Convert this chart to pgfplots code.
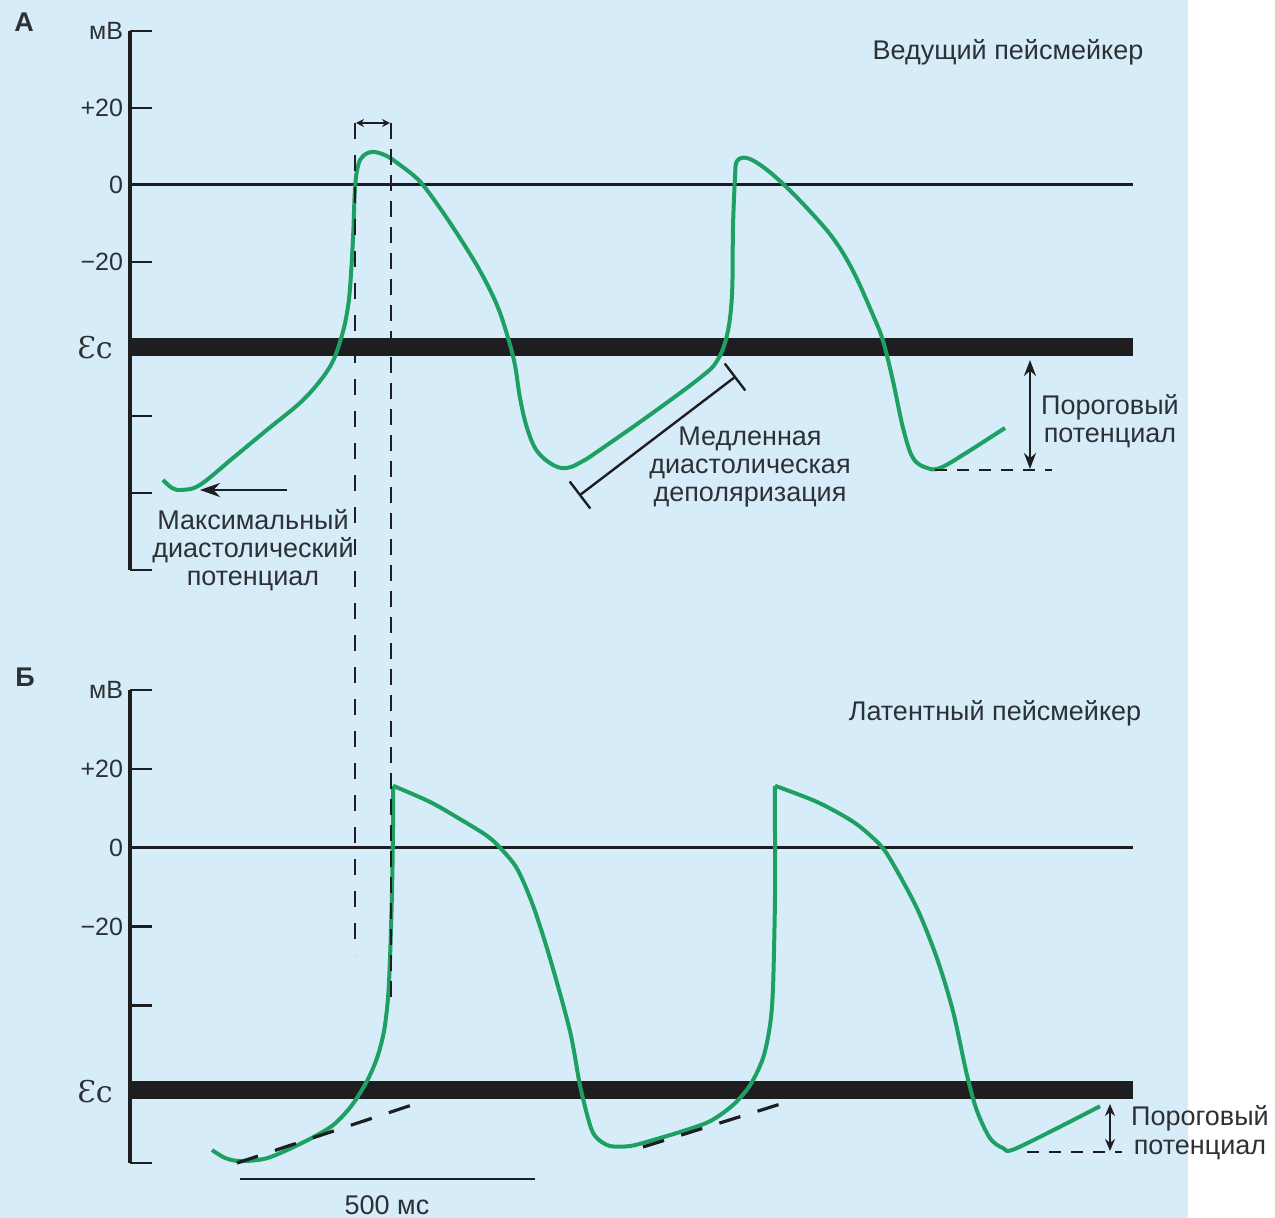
\documentclass[border=0pt]{standalone}
\usepackage{pgfplots}
\pgfplotsset{compat=1.18}
\usepackage{fontspec}
\setmainfont{Liberation Sans}
\newfontfamily\serifec{DejaVu Serif}
\usetikzlibrary{arrows.meta}
\definecolor{bgblue}{RGB}{214,237,249}
\definecolor{apgreen}{RGB}{30,160,98}
\definecolor{ink}{RGB}{30,30,32}
\definecolor{txt}{RGB}{45,48,52}
\pgfplotsset{
  apstyle/.style={
    scale only axis, width=501.5pt, xmin=0, xmax=1700,
    axis x line=none, axis y line=left,
    axis line style={-, line width=1.6pt, draw=ink},
    enlargelimits=false, clip=false,
    tick align=inside, major tick length=11pt,
    major tick style={line width=1.3pt, draw=ink},
    yticklabel style={font=\fontsize{12.5}{13}\selectfont, text=txt},
  },
  ap/.style={apgreen, line width=2pt, smooth, tension=0.6, line join=round},
}
\begin{document}
\begin{tikzpicture}[x=0.5pt,y=-0.5pt]
\useasboundingbox (0,0) rectangle (1275,1218);
\fill[white] (0,0) rectangle (1275,1218);
\fill[bgblue] (0,0) rectangle (1188,1218);

% ---------------- Panel A ----------------
\begin{axis}[apstyle, at={(65pt,-285pt)}, anchor=south west, height=269.5pt,
  ymin=-100, ymax=40,
  ytick={-100,-80,-60,-20,0,20,40}, yticklabels={,,,−20,0,+20,мВ}]
\addplot[ink, line width=9pt] coordinates {(0,-42) (1700,-42)};
\addplot[ink, line width=1.5pt] coordinates {(0,0) (1700,0)};
\addplot[ap] coordinates {
(55.9,-76.6) (71.2,-78.7) (88.1,-79.2) (118.6,-77.9) (174.6,-70.9) (232.2,-63.6)
(288.1,-56.6) (322.0,-50.9) (344.1,-45.7) (359.3,-39.0) (367.8,-33.2) (372.9,-26.8)
(378.0,-13.8) (381.4,-0.8) (386.4,4.9) (394.9,7.5) (411.9,8.6) (435.6,7.5)
(457.6,5.2) (479.7,2.6) (496.6,0) (525.4,-6.0) (559.3,-13.8) (593.2,-22.3)
(622.0,-31.2) (640.7,-39.7) (652.5,-46.8) (661.0,-55.3) (672.9,-63.1) (689.8,-69.1)
(716.9,-72.7) (740.7,-73.5) (767.8,-71.7) (796.6,-68.8) (881.4,-59.7) (966.1,-50.1)
(994.9,-45.7) (1011.9,-39.0) (1020.3,-28.6) (1022.0,-11.2) (1025.4,1.8) (1028.8,6.2)
(1045.8,7.0) (1072.9,4.7) (1106.8,0.3) (1147.5,-6.0) (1191.5,-13.8) (1225.4,-22.3)
(1259.3,-33.8) (1276.3,-40.5) (1293.2,-50.9) (1310.2,-63.1) (1327.1,-70.9) (1350.8,-73.5)
(1372.9,-73.5) (1411.9,-70.1) (1483.1,-63.1)
};
\end{axis}

% ---------------- Panel B ----------------
\begin{axis}[apstyle, at={(65pt,-581.5pt)}, anchor=south west, height=236.5pt,
  ymin=-80, ymax=40,
  ytick={-80,-40,-20,0,20,40}, yticklabels={,,−20,0,+20,мВ}]
\addplot[ink, line width=9pt] coordinates {(0,-61.5) (1700,-61.5)};
\addplot[ink, line width=1.5pt] coordinates {(0,0) (1700,0)};
% upstroke 1
\addplot[ap, tension=0.5] coordinates {
(139.0,-76.7) (161.0,-78.7) (186.4,-79.5) (233.9,-78.7) (298.3,-74.4) (344.1,-70.4)
(376.3,-65.3) (401.7,-59.2) (418.6,-53.4) (430.5,-46.6) (437.3,-38.2) (440.7,-28.1)
(444.1,-11.1) (445.8,5.6) (445.8,15.7)
};
% repolarisation 1, diastole, upstroke 2
\addplot[ap, tension=0.5] coordinates {
(445.8,15.7) (508.5,11.6) (564.4,6.8)
(605.1,3.0) (627.1,0) (655.9,-5.3) (683.1,-14.7) (711.9,-28.1) (745.8,-46.6)
(762.7,-60.3) (779.7,-70.4) (791.5,-73.7) (813.6,-75.7) (847.5,-75.7) (881.4,-74.4)
(937.3,-71.9) (983.1,-69.4) (1022.0,-65.3) (1050.8,-60.3) (1072.9,-53.4) (1084.7,-45.1)
(1089.8,-35.7) (1093.2,-12.9) (1093.2,4.8) (1093.2,15.7)
};
% repolarisation 2 and diastole
\addplot[ap, tension=0.5] coordinates {
(1093.2,15.7) (1164.4,11.6)
(1225.4,6.6) (1266.1,1.5) (1288.1,-2.8) (1333.9,-15.4) (1367.8,-28.1) (1394.9,-41.5)
(1418.6,-57.7) (1435.6,-66.8) (1457.6,-73.7) (1479.7,-76.2) (1503.4,-76.2) (1644.1,-65.6)
};
\end{axis}

% ---------------- annotations ----------------
\draw[ink, line width=1pt, dash pattern=on 8pt off 8pt] (355,123) -- (355,955);
\draw[ink, line width=1.4pt, dash pattern=on 8pt off 5pt] (391,123) -- (391,1000);
\draw[ink, line width=1.2pt, {Stealth[length=4pt,width=4pt]}-{Stealth[length=4pt,width=4pt]}] (356,123) -- (390,123);

% panel A
\draw[ink, line width=1.3pt, -{Stealth[length=10pt,width=7pt]}] (287,490) -- (200,490);
\draw[ink, line width=1.2pt] (580,495) -- (735,377);
\draw[ink, line width=1.2pt] (569.7,481.5) -- (590.3,508.5);
\draw[ink, line width=1.2pt] (724.7,363.5) -- (745.3,390.5);
\draw[ink, line width=1.1pt, dash pattern=on 6pt off 5pt] (935,470) -- (1052,470);
\draw[ink, line width=1.2pt, {Stealth[length=8pt,width=6pt]}-{Stealth[length=8pt,width=6pt]}] (1030,360) -- (1030,469);

% panel B
\draw[ink, line width=1.6pt, dash pattern=on 11pt off 9pt] (237,1163) -- (421,1102);
\draw[ink, line width=1.6pt, dash pattern=on 11pt off 9pt] (643,1147) -- (787,1102);
\draw[ink, line width=1.1pt, dash pattern=on 6pt off 5pt] (1027,1152) -- (1122,1152);
\draw[ink, line width=1.2pt, {Stealth[length=6pt,width=5pt]}-{Stealth[length=6pt,width=5pt]}] (1110,1104) -- (1110,1151);
\draw[ink, line width=1.3pt] (240,1179) -- (535,1179);

% texts
\begin{scope}[every node/.style={text=txt, font=\fontsize{13.5}{14}\selectfont, inner sep=0pt}]
\node[font=\fontsize{13.5}{13.5}\selectfont\bfseries] at (24,22) {А};
\node[font=\fontsize{13.5}{13.5}\selectfont\bfseries] at (25,677) {Б};
\node at (1008,52) {Ведущий пейсмейкер};
\node at (995,713) {Латентный пейсмейкер};
\node[align=center] at (253,550) {Максимальный\\диастолический\\потенциал};
\node[align=center] at (750,467) {Медленная\\диастолическая\\деполяризация};
\node[align=center] at (1110,421) {Пороговый\\потенциал};
\node[align=center, font=\fontsize{13.5}{14.5}\selectfont] at (1200,1133) {Пороговый\\потенциал};
\node at (387,1205) {500 мс};
\node[font=\serifec\fontsize{15}{15}\selectfont] at (95,348) {Ɛc};
\node[font=\serifec\fontsize{15}{15}\selectfont] at (95,1092) {Ɛc};
\end{scope}
\end{tikzpicture}
\end{document}
